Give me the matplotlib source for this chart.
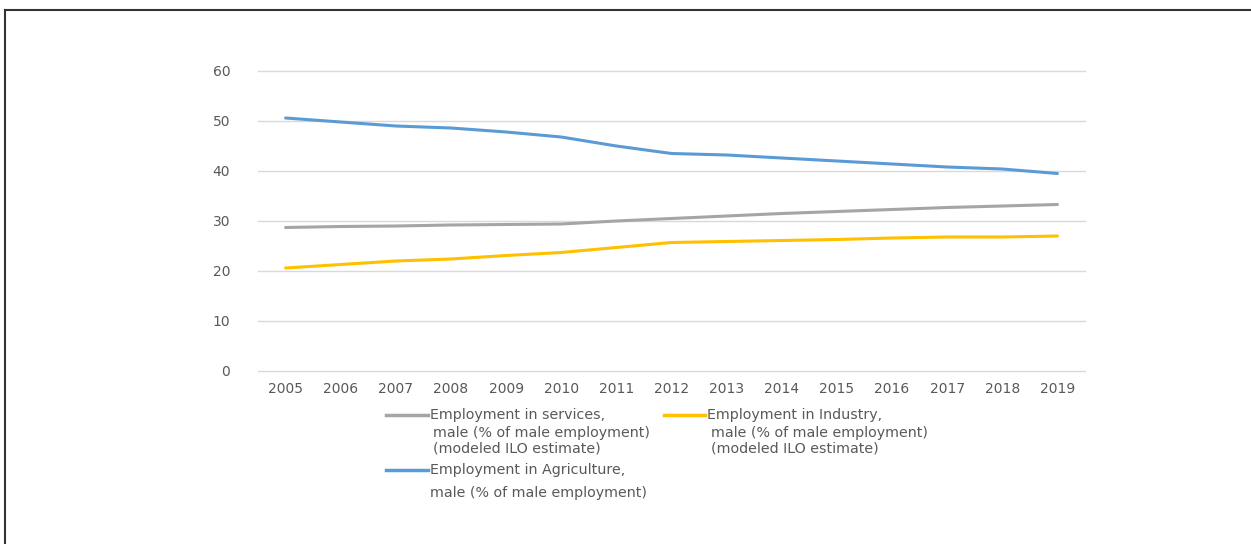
import matplotlib
matplotlib.use("Agg")
from matplotlib import pyplot as plt
from matplotlib.lines import Line2D

years = list(range(2005, 2020))
services = [28.7, 28.9, 29.0, 29.2, 29.3, 29.4, 30.0, 30.5, 31.0, 31.5, 31.9, 32.3, 32.7, 33.0, 33.3]
industry = [20.6, 21.3, 22.0, 22.4, 23.1, 23.7, 24.7, 25.7, 25.9, 26.1, 26.3, 26.6, 26.8, 26.8, 27.0]
agriculture = [50.6, 49.8, 49.0, 48.6, 47.8, 46.8, 45.0, 43.5, 43.2, 42.6, 42.0, 41.4, 40.8, 40.4, 39.5]

c_serv = "#a5a5a5"
c_ind = "#ffc000"
c_agr = "#5b9bd5"
txt = "#595959"

fig = plt.figure(figsize=(12.51, 5.44), dpi=100)
W, H = 1251, 544
ax = fig.add_axes([258 / W, (544 - 371) / H, (1085 - 258) / W, 300 / H])

ax.plot(years, services, color=c_serv, lw=2.2, solid_capstyle="round")
ax.plot(years, industry, color=c_ind, lw=2.2, solid_capstyle="round")
ax.plot(years, agriculture, color=c_agr, lw=2.2, solid_capstyle="round")

ax.set_xlim(2004.5, 2019.5)
ax.set_ylim(0, 60)
ax.set_yticks(range(0, 61, 10))
ax.set_xticks(years)
ax.grid(axis="y", color="#d9d9d9", lw=1)
for g in ax.get_ygridlines():
    g.set_clip_on(False)
ax.set_axisbelow(True)
for s in ax.spines.values():
    s.set_visible(False)
ax.tick_params(length=0, colors=txt, labelsize=10)
ax.tick_params(axis="y", pad=20)
ax.tick_params(axis="x", pad=8)

# legend drawn by hand
def handle(x0, x1, y, color):
    fig.add_artist(Line2D([x0 / W, x1 / W], [1 - y / H, 1 - y / H], color=color, lw=2.5,
                          transform=fig.transFigure))

def label(x, y, s):
    fig.text(x / W, 1 - y / H, s, color=txt, fontsize=10.3, va="center", ha="left")

handle(386, 428, 415, c_serv)
label(430, 415, "Employment in services,")
label(433, 433, "male (% of male employment)")
label(433, 449, "(modeled ILO estimate)")

handle(664, 705, 415, c_ind)
label(707, 415, "Employment in Industry,")
label(711, 433, "male (% of male employment)")
label(711, 449, "(modeled ILO estimate)")

handle(386, 428, 470, c_agr)
label(430, 470, "Employment in Agriculture,")
label(430, 493, "male (% of male employment)")

# frame along top and left edges
fig.add_artist(Line2D([5 / W, 1], [1 - 9.5 / H, 1 - 9.5 / H], color="#333333", lw=1.5,
                      transform=fig.transFigure))
fig.add_artist(Line2D([5 / W, 5 / W], [0, 1 - 9.5 / H], color="#333333", lw=1.5,
                      transform=fig.transFigure))

fig.savefig("out.png", dpi=100)
